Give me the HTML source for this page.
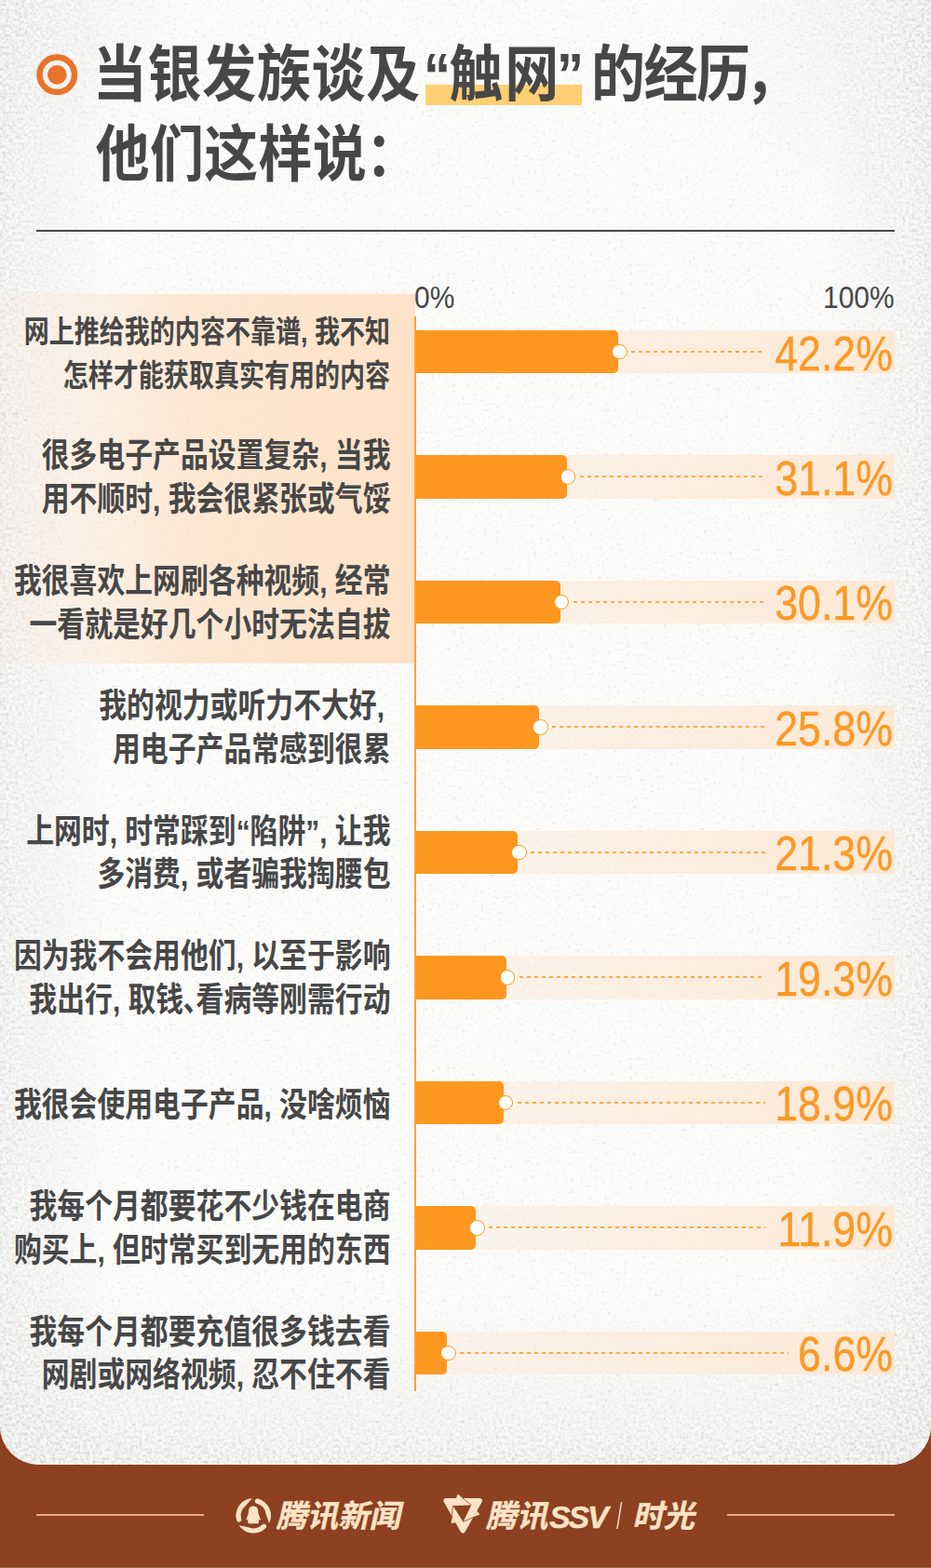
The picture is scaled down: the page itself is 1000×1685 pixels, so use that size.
<!DOCTYPE html>
<html lang="zh-CN">
<head>
<meta charset="utf-8">
<title>当银发族谈及“触网”的经历，他们这样说</title>
<style>
html,body{margin:0;padding:0}
body{width:1000px;height:1685px;position:relative;overflow:hidden;background:#8d4022;font-family:"Liberation Sans",sans-serif;color:#474747}
.paper{position:absolute;left:0;top:0;width:1000px;height:1574px;border-radius:0 0 42px 42px;background:#f7f7f6;overflow:hidden}
.paper .tex{position:absolute;left:0;top:0;width:1000px;height:1574px}
.hl{position:absolute;left:0;top:316px;width:445.6px;height:396.5px;background:linear-gradient(90deg,rgba(253,226,200,.12) 0%,rgba(253,226,200,.75) 45%,rgba(253,226,200,1) 100%)}
.thl{position:absolute;left:457.4px;top:91px;width:168px;height:21.6px;background:#fecf73}
.rule{position:absolute;left:39px;top:246.5px;width:922px;height:2.8px;background:#474747}
.axis{position:absolute;left:445.2px;top:339.5px;width:1.8px;height:1155px;background:#fca23c}
.track{position:absolute;left:445.4px;width:515.9px;height:46.7px;background:linear-gradient(90deg,rgba(253,233,214,.3) 0%,rgba(253,233,214,.6) 35%,rgba(253,233,214,1) 100%)}
.bar{position:absolute;left:445.4px;height:46.7px;background:#fd971f;border-radius:0 5px 5px 0}
.dash{position:absolute;height:2px;background:repeating-linear-gradient(90deg,#fca94b 0,#fca94b 4.2px,rgba(252,169,75,0) 4.2px,rgba(252,169,75,0) 8px)}
.dot{position:absolute;width:16.6px;height:16.6px;box-sizing:border-box;border-radius:50%;background:#fff;border:1.9px solid #fd971f}
.ink{position:absolute;left:0;top:0;width:1000px;height:1685px;overflow:visible}
.ink text{font-family:"Liberation Sans","Noto Sans CJK SC",sans-serif}
.ttl{font-size:58px;font-weight:bold}
.lb{font-size:29.85px;font-weight:bold;text-anchor:end}
.lb1{font-size:27.05px;font-weight:bold;text-anchor:end}
.ax{font-size:34px}
.val{font-size:52px;text-anchor:end}
.ft{font-size:33.4px;font-weight:bold}
.fline{position:absolute;top:1626.9px;height:1.8px;width:180.4px;background:#e3ab8a}
.edge{position:absolute;left:0;top:1684px;width:1000px;height:1px;background:#a3694a}
/* real text is also kept in the document for readers / machines */
.sr{position:absolute;left:0;top:0;width:1px;height:1px;margin:-1px;padding:0;overflow:hidden;clip:rect(0 0 0 0);clip-path:inset(50%);white-space:nowrap;border:0}
</style>
</head>
<body>
<div class="paper">
<svg class="tex" width="1000" height="1574" viewBox="0 0 1000 1574" aria-hidden="true">
<defs>
<filter id="speck" x="0" y="0" width="100%" height="100%" color-interpolation-filters="sRGB">
<feTurbulence type="fractalNoise" baseFrequency="0.3" numOctaves="2" seed="11" result="n"/>
<feColorMatrix in="n" type="matrix" values="0 0 0 0 0.52  0 0 0 0 0.52  0 0 0 0 0.52  0.6 0 0 0 -0.36"/>
</filter>
<filter id="dense" x="0" y="0" width="100%" height="100%" color-interpolation-filters="sRGB">
<feTurbulence type="fractalNoise" baseFrequency="0.3" numOctaves="3" seed="23" result="n"/>
<feColorMatrix in="n" type="matrix" values="0 0 0 0 0.42  0 0 0 0 0.42  0 0 0 0 0.42  0 0.55 0 0 -0.215"/>
</filter>
<linearGradient id="mL" x1="0" y1="0" x2="1" y2="0"><stop offset="0" stop-color="#fff" stop-opacity=".75"/><stop offset=".35" stop-color="#fff" stop-opacity=".42"/><stop offset="1" stop-color="#fff" stop-opacity="0"/></linearGradient>
<linearGradient id="mR" x1="1" y1="0" x2="0" y2="0"><stop offset="0" stop-color="#fff" stop-opacity=".75"/><stop offset=".35" stop-color="#fff" stop-opacity=".42"/><stop offset="1" stop-color="#fff" stop-opacity="0"/></linearGradient>
<linearGradient id="mB" x1="0" y1="1" x2="0" y2="0"><stop offset="0" stop-color="#fff" stop-opacity=".8"/><stop offset=".35" stop-color="#fff" stop-opacity=".35"/><stop offset="1" stop-color="#fff" stop-opacity="0"/></linearGradient>
<radialGradient id="mC"><stop offset="0" stop-color="#fff" stop-opacity=".55"/><stop offset=".5" stop-color="#fff" stop-opacity=".3"/><stop offset="1" stop-color="#fff" stop-opacity="0"/></radialGradient>
<mask id="edge" maskUnits="userSpaceOnUse" x="0" y="0" width="1000" height="1574">
<rect width="1000" height="1574" fill="#000"/>
<rect x="0" y="0" width="115" height="1574" fill="url(#mL)"/>
<rect x="885" y="0" width="115" height="1574" fill="url(#mR)"/>
<rect x="0" y="1394" width="1000" height="180" fill="url(#mB)"/>
<circle cx="1000" cy="0" r="250" fill="url(#mC)"/><circle cx="0" cy="0" r="200" fill="url(#mC)"/><circle cx="0" cy="1574" r="220" fill="url(#mC)"/><circle cx="1000" cy="1574" r="220" fill="url(#mC)"/>
</mask>
</defs>
<rect width="1000" height="1574" fill="#fbfbfa"/>
<rect width="1000" height="1574" filter="url(#speck)"/>
<g mask="url(#edge)"><rect width="1000" height="1574" fill="#000" fill-opacity=".02"/><rect width="1000" height="1574" filter="url(#dense)"/></g>
</svg>
</div>

<div class="hl"></div>
<div class="thl"></div>
<div class="rule"></div>
<div class="track" style="top:354.75px"></div><div class="bar" style="top:354.75px;width:218.55px"></div><div class="dash" style="top:377px;left:677.95px;width:143.7px"></div><div class="dot" style="top:369.8px;left:656.95px"></div>
<div class="track" style="top:489.22px"></div><div class="bar" style="top:489.22px;width:163.2px"></div><div class="dash" style="top:511.47px;left:622.6px;width:199.05px"></div><div class="dot" style="top:504.27px;left:601.6px"></div>
<div class="track" style="top:623.69px"></div><div class="bar" style="top:623.69px;width:156.12px"></div><div class="dash" style="top:645.94px;left:615.52px;width:206.13px"></div><div class="dot" style="top:638.74px;left:594.52px"></div>
<div class="track" style="top:758.16px"></div><div class="bar" style="top:758.16px;width:133.93px"></div><div class="dash" style="top:780.41px;left:593.33px;width:228.32px"></div><div class="dot" style="top:773.21px;left:572.33px"></div>
<div class="track" style="top:892.63px"></div><div class="bar" style="top:892.63px;width:110.71px"></div><div class="dash" style="top:914.88px;left:570.11px;width:251.54px"></div><div class="dot" style="top:907.68px;left:549.11px"></div>
<div class="track" style="top:1027.1px"></div><div class="bar" style="top:1027.1px;width:98.3px"></div><div class="dash" style="top:1049.35px;left:557.7px;width:263.95px"></div><div class="dot" style="top:1042.15px;left:536.7px"></div>
<div class="track" style="top:1161.57px"></div><div class="bar" style="top:1161.57px;width:96.1px"></div><div class="dash" style="top:1183.82px;left:555.5px;width:266.15px"></div><div class="dot" style="top:1176.62px;left:534.5px"></div>
<div class="track" style="top:1296.04px"></div><div class="bar" style="top:1296.04px;width:65.6px"></div><div class="dash" style="top:1318.29px;left:525px;width:296.65px"></div><div class="dot" style="top:1311.09px;left:504px"></div>
<div class="track" style="top:1430.51px"></div><div class="bar" style="top:1430.51px;width:34.86px"></div><div class="dash" style="top:1452.76px;left:494.26px;width:352.39px"></div><div class="dot" style="top:1445.56px;left:473.26px"></div>
<div class="axis"></div>

<div class="fline" style="left:38.7px"></div>
<div class="fline" style="left:780.9px"></div>
<div class="edge"></div>

<header class="sr"><h1>当银发族谈及“触网”的经历，他们这样说：</h1></header>
<main class="sr">
<p>0% – 100%</p>
<ul>
<li><span>网上推给我的内容不靠谱, 我不知怎样才能获取真实有用的内容</span> <b>42.2%</b></li>
<li><span>很多电子产品设置复杂, 当我用不顺时, 我会很紧张或气馁</span> <b>31.1%</b></li>
<li><span>我很喜欢上网刷各种视频, 经常一看就是好几个小时无法自拔</span> <b>30.1%</b></li>
<li><span>我的视力或听力不大好, 用电子产品常感到很累</span> <b>25.8%</b></li>
<li><span>上网时, 时常踩到“陷阱”, 让我多消费, 或者骗我掏腰包</span> <b>21.3%</b></li>
<li><span>因为我不会用他们, 以至于影响我出行, 取钱、看病等刚需行动</span> <b>19.3%</b></li>
<li><span>我很会使用电子产品, 没啥烦恼</span> <b>18.9%</b></li>
<li><span>我每个月都要花不少钱在电商购买上, 但时常买到无用的东西</span> <b>11.9%</b></li>
<li><span>我每个月都要充值很多钱去看网剧或网络视频, 忍不住不看</span> <b>6.6%</b></li>
</ul>
</main>
<footer class="sr">腾讯新闻 · 腾讯SSV | 时光</footer>

<svg class="ink" width="1000" height="1685" viewBox="0 0 1000 1685" aria-hidden="true">
<g fill="#e8742a"><circle cx="61.3" cy="80.3" r="18.75" fill="none" stroke="#e8742a" stroke-width="6.5"/><circle cx="61.3" cy="80.3" r="10.35"/></g>
<g fill="#474747">
<text class="ttl" transform="translate(0 103.3) scale(1 1.13)" y="0" x="99.8 158.5 217.2 275.9 334.6 393.3 455 482.3 542.2 598 634.9 691.5 748.1 800">当银发族谈及“触网”的经历，</text>
<text class="ttl" transform="translate(0 188.6) scale(1 1.13)" y="0" x="102.6 160.9 219.2 277.5 335.8 392.8">他们这样说：</text>

<text class="lb1" transform="translate(419.15 368) scale(1 1.2)" x="0" y="0">网上推给我的内容不靠谱, 我不知</text>
<text class="lb1" transform="translate(419.15 414.6) scale(1 1.2)" x="0" y="0">怎样才能获取真实有用的内容</text>

<text class="lb" transform="translate(419.5 502.47) scale(1 1.2)" x="0" y="0">很多电子产品设置复杂, 当我</text>
<text class="lb" transform="translate(419.5 549.07) scale(1 1.2)" x="0" y="0">用不顺时, 我会很紧张或气馁</text>

<text class="lb" transform="translate(419.5 636.94) scale(1 1.2)" x="0" y="0">我很喜欢上网刷各种视频, 经常</text>
<text class="lb" transform="translate(419.5 683.54) scale(1 1.2)" x="0" y="0">一看就是好几个小时无法自拔</text>

<text class="lb" transform="translate(413 771.41) scale(1 1.2)" x="0" y="0">我的视力或听力不大好,</text>
<text class="lb" transform="translate(419.5 818.01) scale(1 1.2)" x="0" y="0">用电子产品常感到很累</text>

<text class="lb" transform="translate(419.5 905.88) scale(1 1.2)" x="0" y="0">上网时, 时常踩到“陷阱”, 让我</text>
<text class="lb" transform="translate(419.5 952.48) scale(1 1.2)" x="0" y="0">多消费, 或者骗我掏腰包</text>

<text class="lb" transform="translate(419.5 1040.35) scale(1 1.2)" x="0" y="0">因为我不会用他们, 以至于影响</text>
<text class="lb" transform="translate(197.2 1086.95) scale(1 1.2)" x="0" y="0">我出行, 取钱</text>
<text class="lb" style="text-anchor:start" transform="translate(196.6 1086.95) scale(1 1.2)" x="0" y="0">、</text>
<text class="lb" transform="translate(419.5 1086.95) scale(1 1.2)" x="0" y="0">看病等刚需行动</text>

<text class="lb" transform="translate(419.5 1199.52) scale(1 1.2)" x="0" y="0">我很会使用电子产品, 没啥烦恼</text>

<text class="lb" transform="translate(419.5 1309.29) scale(1 1.2)" x="0" y="0">我每个月都要花不少钱在电商</text>
<text class="lb" transform="translate(419.5 1355.89) scale(1 1.2)" x="0" y="0">购买上, 但时常买到无用的东西</text>

<text class="lb" transform="translate(419.5 1443.76) scale(1 1.2)" x="0" y="0">我每个月都要充值很多钱去看</text>
<text class="lb" transform="translate(419.5 1490.36) scale(1 1.2)" x="0" y="0">网剧或网络视频, 忍不住不看</text>

<text class="ax" transform="translate(445 330.6) scale(0.88 1)" x="0" y="0">0%</text>
<text class="ax" style="text-anchor:end" transform="translate(960.5 330.6) scale(0.88 1)" x="0" y="0">100%</text>
</g>
<g fill="#fb9926" stroke="#fb9926" stroke-width="0.4">
<text class="val" transform="translate(959 397.5) scale(0.86 1)" x="0" y="0">42.2%</text>
<text class="val" transform="translate(959 531.97) scale(0.86 1)" x="0" y="0">31.1%</text>
<text class="val" transform="translate(959 666.44) scale(0.86 1)" x="0" y="0">30.1%</text>
<text class="val" transform="translate(959 800.91) scale(0.86 1)" x="0" y="0">25.8%</text>
<text class="val" transform="translate(959 935.38) scale(0.86 1)" x="0" y="0">21.3%</text>
<text class="val" transform="translate(959 1069.85) scale(0.86 1)" x="0" y="0">19.3%</text>
<text class="val" transform="translate(959 1204.32) scale(0.86 1)" x="0" y="0">18.9%</text>
<text class="val" transform="translate(959 1338.79) scale(0.86 1)" x="0" y="0">11.9%</text>
<text class="val" transform="translate(959 1473.26) scale(0.86 1)" x="0" y="0">6.6%</text>
</g>
<g fill="#fbe3c6">
<path d="M277.12 1610.59 A18.8 18.8 0 0 1 289.15 1636.99 Q287.42 1631.98 285.54 1626.41 A13.5 13.5 0 0 0 275.74 1615.71 A2.65 2.65 0 0 1 277.12 1610.59 ZM285.54 1642.04 A18.8 18.8 0 0 1 256.66 1639.26 Q261.87 1640.28 267.63 1641.44 A13.5 13.5 0 0 0 281.8 1638.3 A2.65 2.65 0 0 1 285.54 1642.04 ZM254.09 1633.62 A18.8 18.8 0 0 1 270.94 1610 Q267.46 1614 263.57 1618.41 A13.5 13.5 0 0 0 259.21 1632.24 A2.65 2.65 0 0 1 254.09 1633.62 Z"/>
<path transform="translate(272.25 1628.75)" d="M-.2-10.200C3.400-10.200 5-7.800 5-4.800c0 2 .6 3.400 1.300 5.300L8 5.100 5.800 4.100l-.1 3.300q-.1 1-1 1h-9.600q-.900 0-1-1L-6 4.100l-2.200 1 1.700-4.600c.7-1.900 1.300-3.300 1.300-5.300 0-3 1.600-5.400 5-5.400z"/>
<path d="M479.18 1612.74 L515.22 1612.74 L497.2 1644.52 Z" stroke="#fbe3c6" stroke-width="5.6" stroke-linejoin="round"/>
<path d="M489.9 1610.2 L491.73 1605.5 L497.3 1610.2 Z"/>
<path d="M512.22 1623.57 L515.38 1627.51 L508.52 1629.98 Z"/>
<path d="M489.48 1636.22 L484.49 1636.98 L485.78 1629.81 Z"/>
<path d="M506.2 1617.45 L486.45 1618 L497.5 1635.4 Z" fill="#8d4022"/>
<path d="M506.2 1617.45 L496.65 1609.56" stroke="#8d4022" stroke-width="0.8" fill="none"/>
<path d="M486.45 1618 L485.16 1630.53" stroke="#8d4022" stroke-width="0.8" fill="none"/>
<path d="M497.5 1635.4 L509.3 1630.19" stroke="#8d4022" stroke-width="0.8" fill="none"/>
<g stroke="#fbe3c6" stroke-width="0.4">
<g transform="translate(297 1641.4) skewX(-12.5) translate(-297 -1641.4)">
<text class="ft" x="296.4" y="1641.4">腾讯新闻</text>
</g>
<g transform="translate(522.3 1641.4) skewX(-12.5) translate(-522.3 -1641.4)">
<text class="ft" x="521.7" y="1641.4">腾讯</text>
</g>
<text x="590 610.5 631" y="1641.6" font-size="34" font-weight="bold" font-style="italic">SSV</text>
<g transform="translate(681.5 1641.4) skewX(-12.5) translate(-681.5 -1641.4)">
<text class="ft" x="679.3" y="1641.4">时光</text>
</g>
<path d="M667.6 1614 L662.9 1643" stroke="#fbe3c6" stroke-width="1.5" fill="none"/>
</g>
</g>
</svg>
</body>
</html>
